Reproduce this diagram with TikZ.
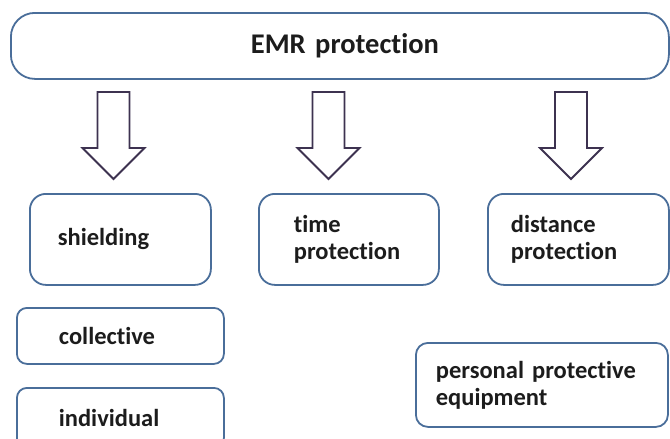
\documentclass[tikz,border=0pt]{standalone}
\usepackage{fontspec}
\setmainfont{Carlito}[Ligatures={NoCommon}]
\definecolor{boxblue}{HTML}{4A6E9A}
\definecolor{arrowpurple}{HTML}{3D3250}
\definecolor{txt}{HTML}{1C1C1C}
\newcommand{\tightsp}{\spaceskip=0.17em\relax}
\begin{document}
\begin{tikzpicture}[x=1pt,y=-1pt,
  box/.style={draw=boxblue, line width=1.8pt, fill=white, text=txt,
    font=\bfseries\fontsize{24.5}{27}\selectfont\tightsp, align=left,
    anchor=north west, inner ysep=0pt},
  boxdim/.style n args={3}{minimum width=#1pt, minimum height=#2pt,
    inner xsep=#3pt, text width={#1pt-2*#3pt}},
  arrowline/.style={draw=arrowpurple, line width=1.8pt, fill=white, line join=miter},
  blockarrow/.pic={\path[arrowline] (-16,0) -- (16,0) -- (16,56) -- (31,56)
    -- (0,87) -- (-31,56) -- (-16,56) -- cycle;}
]
\useasboundingbox (0,0) rectangle (670,439);
\fill[white] (0,0) rectangle (670,439);

\node[box, rounded corners=24pt, align=center, minimum width=658pt, minimum height=66pt,
  text width=600pt, inner xsep=29pt,
  font=\bfseries\fontsize{28.5}{32}\selectfont\tightsp] (emr) at (10,12) {\hspace*{10pt}EMR protection};

\pic at (113.5,92) {blockarrow};
\pic at (328.5,92) {blockarrow};
\pic at (571,92) {blockarrow};

\node[box, rounded corners=16pt, boxdim={181}{91}{28}] (shield) at (29,193) {shielding};
\node[box, rounded corners=16pt, boxdim={180}{91}{35}] (time) at (258,193) {time\\protection};
\node[box, rounded corners=16pt, boxdim={181}{91}{23}] (dist) at (487,193) {distance\\protection};

\node[box, rounded corners=10pt, boxdim={207}{56}{42}] (coll) at (16,307) {collective};
\node[box, rounded corners=10pt, boxdim={207}{60}{42}] (indiv) at (16,387) {individual};

\node[box, rounded corners=12pt, boxdim={252}{84}{20}] (ppe) at (415,342) {personal protective\\equipment};
\end{tikzpicture}
\end{document}
